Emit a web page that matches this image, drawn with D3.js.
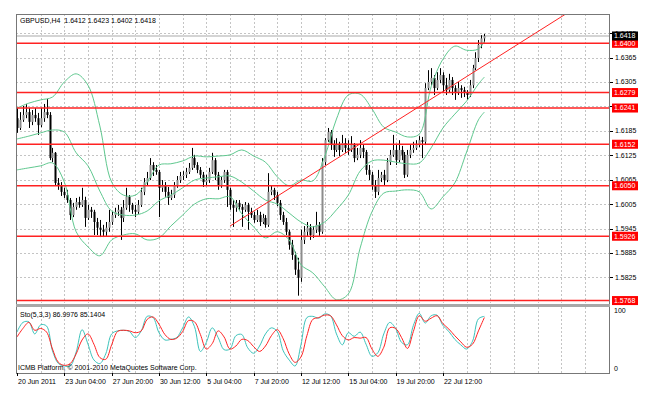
<!DOCTYPE html>
<html>
<head>
<meta charset="utf-8">
<script src="https://cdn.jsdelivr.net/npm/d3@7"></script>
<style>
body { margin: 0; background: #fff; }
text { font-family: "Liberation Sans", Arial, sans-serif; font-size: 7px; fill: #000; white-space: pre; }
</style>
</head>
<body>
<script>
// GBPUSD H4 bars
var openP = [1.6216,1.6192,1.6212,1.6224,1.6231,1.6207,1.6224,1.6216,
  1.6199,1.6216,1.6231,1.6224,1.6118,1.6131,1.6057,1.6050,
  1.6035,1.6027,1.6015,1.5978,1.5998,1.6010,1.6003,1.6015,
  1.5971,1.5991,1.5986,1.5961,1.5947,1.5942,1.5937,1.5947,
  1.5961,1.5978,1.5986,1.5991,1.5971,1.5996,1.6023,1.6003,
  1.5991,1.5986,1.6003,1.6035,1.6059,1.6069,1.6101,1.6089,
  1.6084,1.6045,1.6052,1.6035,1.6020,1.6027,1.6052,1.6064,
  1.6074,1.6077,1.6084,1.6094,1.6118,1.6101,1.6089,1.6077,
  1.6059,1.6064,1.6084,1.6113,1.6077,1.6052,1.6064,1.6084,
  1.6040,1.6003,1.5996,1.6008,1.5998,1.5991,1.6003,1.5986,
  1.5978,1.5966,1.5978,1.5961,1.5971,1.5954,1.6035,1.6040,
  1.6027,1.6008,1.5978,1.5961,1.5937,1.5905,1.5880,1.5844,
  1.5824,1.5917,1.5937,1.5947,1.5929,1.5942,1.5954,1.5937,
  1.6108,1.6162,1.6182,1.6150,1.6138,1.6150,1.6138,1.6155,
  1.6143,1.6138,1.6150,1.6118,1.6126,1.6143,1.6133,1.6089,
  1.6077,1.6052,1.6035,1.6069,1.6077,1.6064,1.6108,1.6126,
  1.6138,1.6113,1.6138,1.6126,1.6077,1.6126,1.6138,1.6143,
  1.6150,1.6162,1.6158,1.6290,1.6305,1.6315,1.6290,1.6310,
  1.6322,1.6297,1.6285,1.6310,1.6290,1.6280,1.6290,1.6285,
  1.6280,1.6273,1.6297,1.6339,1.6364,1.6396,1.6412];
var highP = [1.6241,1.6231,1.6246,1.6251,1.6241,1.6236,1.6241,1.6229,
  1.6241,1.6251,1.6263,1.6231,1.6143,1.6133,1.6069,1.6059,
  1.6045,1.6040,1.6020,1.6008,1.6020,1.6023,1.6045,1.6023,
  1.6003,1.5998,1.5991,1.5971,1.5966,1.5954,1.5961,1.5991,
  1.5986,1.5996,1.6003,1.5998,1.6015,1.6045,1.6027,1.6008,
  1.6003,1.6015,1.6045,1.6069,1.6084,1.6118,1.6108,1.6101,
  1.6089,1.6064,1.6059,1.6047,1.6040,1.6059,1.6074,1.6084,
  1.6086,1.6094,1.6106,1.6143,1.6126,1.6108,1.6096,1.6084,
  1.6077,1.6094,1.6131,1.6118,1.6084,1.6072,1.6089,1.6089,
  1.6045,1.6015,1.6015,1.6015,1.6005,1.6010,1.6008,1.5996,
  1.5986,1.5991,1.5986,1.5981,1.5978,1.6081,1.6050,1.6045,
  1.6035,1.6015,1.5986,1.5971,1.5942,1.5917,1.5888,1.5873,
  1.5942,1.5951,1.5961,1.5956,1.5951,1.5986,1.5961,1.6118,
  1.6167,1.6192,1.6187,1.6162,1.6167,1.6158,1.6175,1.6167,
  1.6162,1.6172,1.6155,1.6143,1.6162,1.6150,1.6138,1.6101,
  1.6084,1.6064,1.6089,1.6084,1.6089,1.6118,1.6138,1.6175,
  1.6150,1.6162,1.6148,1.6133,1.6138,1.6150,1.6158,1.6162,
  1.6172,1.6170,1.6302,1.6334,1.6339,1.6322,1.6329,1.6339,
  1.6329,1.6315,1.6325,1.6317,1.6297,1.6305,1.6297,1.6293,
  1.6285,1.6310,1.6347,1.6378,1.6408,1.6420,1.6423];
var lowP = [1.6180,1.6187,1.6207,1.6216,1.6192,1.6199,1.6207,1.6175,
  1.6194,1.6207,1.6216,1.6113,1.6108,1.6050,1.6040,1.6025,
  1.6020,1.6008,1.5966,1.5973,1.5991,1.5996,1.5998,1.5949,
  1.5966,1.5971,1.5929,1.5929,1.5924,1.5924,1.5927,1.5937,
  1.5954,1.5971,1.5976,1.5917,1.5961,1.5991,1.5986,1.5981,
  1.5973,1.5981,1.5998,1.6027,1.6050,1.6064,1.6074,1.6077,
  1.5973,1.6035,1.6023,1.6003,1.6015,1.6020,1.6045,1.6057,
  1.6064,1.6069,1.6079,1.6089,1.6094,1.6081,1.6069,1.6047,
  1.6052,1.6057,1.6079,1.6064,1.6040,1.6045,1.6057,1.5998,
  1.5991,1.5949,1.5986,1.5991,1.5949,1.5986,1.5942,1.5971,
  1.5959,1.5961,1.5951,1.5956,1.5947,1.5949,1.6027,1.6015,
  1.6000,1.5966,1.5954,1.5929,1.5893,1.5868,1.5831,1.5780,
  1.5814,1.5907,1.5927,1.5917,1.5922,1.5934,1.5927,1.5932,
  1.6101,1.6158,1.6138,1.6121,1.6133,1.6123,1.6133,1.6131,
  1.6126,1.6133,1.6108,1.6113,1.6118,1.6118,1.6077,1.6064,
  1.6040,1.6020,1.6027,1.6059,1.6052,1.6059,1.6101,1.6121,
  1.6101,1.6108,1.6113,1.6069,1.6072,1.6118,1.6131,1.6138,
  1.6145,1.6118,1.6150,1.6285,1.6297,1.6273,1.6285,1.6302,
  1.6280,1.6273,1.6280,1.6273,1.6261,1.6273,1.6266,1.6268,
  1.6261,1.6268,1.6290,1.6334,1.6354,1.6388,1.6402];
var closeP = [1.6192,1.6212,1.6224,1.6231,1.6207,1.6224,1.6216,1.6199,
  1.6216,1.6231,1.6224,1.6118,1.6131,1.6057,1.6050,1.6035,
  1.6027,1.6015,1.5978,1.5998,1.6010,1.6003,1.6015,1.5971,
  1.5991,1.5986,1.5961,1.5947,1.5942,1.5937,1.5947,1.5961,
  1.5978,1.5986,1.5991,1.5971,1.5996,1.6023,1.6003,1.5991,
  1.5986,1.6003,1.6035,1.6059,1.6069,1.6101,1.6089,1.6084,
  1.6045,1.6052,1.6035,1.6020,1.6027,1.6052,1.6064,1.6074,
  1.6077,1.6084,1.6094,1.6118,1.6101,1.6089,1.6077,1.6059,
  1.6064,1.6084,1.6113,1.6077,1.6052,1.6064,1.6084,1.6040,
  1.6003,1.5996,1.6008,1.5998,1.5991,1.6003,1.5986,1.5978,
  1.5966,1.5978,1.5961,1.5971,1.5954,1.6035,1.6040,1.6027,
  1.6008,1.5978,1.5961,1.5937,1.5905,1.5880,1.5844,1.5824,
  1.5917,1.5937,1.5947,1.5929,1.5942,1.5954,1.5937,1.6108,
  1.6162,1.6182,1.6150,1.6138,1.6150,1.6138,1.6155,1.6143,
  1.6138,1.6150,1.6118,1.6126,1.6143,1.6133,1.6089,1.6077,
  1.6052,1.6035,1.6069,1.6077,1.6064,1.6108,1.6126,1.6138,
  1.6113,1.6138,1.6126,1.6077,1.6126,1.6138,1.6143,1.6150,
  1.6162,1.6158,1.6290,1.6305,1.6315,1.6290,1.6310,1.6322,
  1.6297,1.6285,1.6310,1.6290,1.6280,1.6290,1.6285,1.6280,
  1.6273,1.6297,1.6339,1.6364,1.6396,1.6412,1.6418];

// Bollinger bands, sampled every 4 bars
var bbBars = [0,4,8,12,16,20,24,28,32,36,40,44,48,52,56,60,64,68,72,76,80,84,88,92,96,100,104,108,112,116,120,124,128,132,136,140,144,148,152,156,158];
var bbUpper = [1.6241,1.6253,1.6261,1.6268,1.6305,1.6325,1.6297,1.6197,1.6059,1.6027,1.6027,1.6059,1.6101,1.6104,1.6111,1.6123,1.6121,1.6123,1.6126,1.6138,1.6123,1.6108,1.6072,1.6050,1.6064,1.6062,1.6121,1.6214,1.6273,1.6275,1.6239,1.6194,1.6182,1.6170,1.6177,1.6293,1.6361,1.6393,1.6383,1.6386,1.6405];
var bbMiddle = [1.6165,1.6172,1.6180,1.6187,1.6182,1.6131,1.6099,1.6037,1.5988,1.5978,1.5978,1.5988,1.6013,1.6027,1.6045,1.6064,1.6069,1.6072,1.6074,1.6059,1.6037,1.6015,1.6005,1.5983,1.5961,1.5949,1.5961,1.5991,1.6027,1.6086,1.6111,1.6113,1.6108,1.6104,1.6106,1.6143,1.6192,1.6226,1.6258,1.6300,1.6317];
var bbLower = [1.6089,1.6094,1.6099,1.6106,1.6059,1.5937,1.5900,1.5878,1.5917,1.5929,1.5932,1.5917,1.5922,1.5951,1.5978,1.6005,1.6018,1.6018,1.6023,1.5981,1.5949,1.5922,1.5937,1.5917,1.5856,1.5836,1.5802,1.5770,1.5784,1.5897,1.5986,1.6032,1.6037,1.6040,1.6035,1.5993,1.6023,1.6057,1.6133,1.6212,1.6231];

// Stochastic(5,3,3), sampled every 2 bars
var stoBars = [0,2,4,6,8,10,12,14,16,18,20,22,24,26,28,30,32,34,36,38,40,42,44,46,48,50,52,54,56,58,60,62,64,66,68,70,72,74,76,78,80,82,84,86,88,90,92,94,96,98,100,102,104,106,108,110,112,114,116,118,120,122,124,126,128,130,132,134,136,138,140,142,144,146,148,150,152,154,156,158];
var stoMain = [61,77,78,58,73,71,30,9,5,5, 28,65,41,15,9,25,58,63,64,62, 52,63,87,85,60,48,49,52,68,86, 70,29,44,68,52,32,33,55,57,35, 26,38,58,68,62,30,15,5,40,85, 87,84,91,88,58,40,60,54,61,41, 21,27,58,77,67,44,40,72,92,76, 88,89,72,62,49,40,33,46,83,87.0];
var stoSignal = [53,67,77,64,67,61,33,11,6,9, 25,48,58,41,19,16,40,62,64,63, 60,63,82,86,74,57,49,51,62,80, 78,57,33,42,63,53,33,38,49,47, 37,29,38,55,65,50,25,11,20,55, 82,85,89,88,73,55,48,52,51,52, 33,21,36,68,67,52,34,62,88,79, 84,88,75,66,55,45,36,41,63,85.1];

var levels = [1.6400, 1.6279, 1.6241, 1.6152, 1.6050, 1.5926, 1.5768];
var priceTicks = [1.6425, 1.6365, 1.6305, 1.6245, 1.6185, 1.6125, 1.6065, 1.6005, 1.5945, 1.5885, 1.5825];
// 1.6245 sits under the 1.6241 tag, so its label is not shown
var hiddenTicks = [1.6245];
var timeBars = [0, 16, 32, 48, 64, 80, 96, 112, 128, 144];
var timeLabels = ['20 Jun 2011', '23 Jun 04:00', '27 Jun 20:00', '30 Jun 12:00', '5 Jul 04:00',
  '7 Jul 20:00', '12 Jul 12:00', '15 Jul 04:00', '19 Jul 20:00', '22 Jul 12:00'];
var trendBars = [72, 133];
var trendPrices = [1.5951, 1.6231];
var lastPrice = 1.6418;
var header = 'GBPUSD,H4  1.6412 1.6423 1.6402 1.6418';
var stoHeader = 'Sto(5,3,3) 86.9976 85.1404';

var W = 647, H = 395;
var left = 16, right = 610, mainTop = 14, mainBottom = 303, stoTop = 307, stoBottom = 373;

var svg = d3.select('body').append('svg')
  .attr('width', W)
  .attr('height', H);

var x = d3.scaleLinear().domain([0, 200]).range([17, 17 + 2.958 * 200]);
var y = d3.scaleLinear().domain([1.5762, 1.6472]).range([mainBottom, mainTop]);
var ys = d3.scaleLinear().domain([0, 100]).range([369, 308.5]);

var defs = svg.append('defs');
defs.append('clipPath').attr('id', 'clipMain').append('rect')
  .attr('x', left).attr('y', mainTop).attr('width', right - left).attr('height', mainBottom - mainTop);
defs.append('clipPath').attr('id', 'clipSto').append('rect')
  .attr('x', left).attr('y', stoTop).attr('width', right - left).attr('height', stoBottom - stoTop);

var gridBars = d3.range(8, 201, 8).filter(b => x(b) < right - 1);

// grid
var grid = svg.append('g').attr('stroke', '#c4c4c4').attr('stroke-dasharray', '2,2').attr('shape-rendering', 'crispEdges');
grid.selectAll('.vm').data(gridBars).enter().append('line')
  .attr('x1', d => Math.round(x(d)) + 0.5).attr('x2', d => Math.round(x(d)) + 0.5)
  .attr('y1', mainTop).attr('y2', mainBottom);
grid.selectAll('.vs').data(gridBars).enter().append('line')
  .attr('x1', d => Math.round(x(d)) + 0.5).attr('x2', d => Math.round(x(d)) + 0.5)
  .attr('y1', stoTop).attr('y2', stoBottom);
grid.selectAll('.h').data(priceTicks).enter().append('line')
  .attr('x1', left).attr('x2', right)
  .attr('y1', d => Math.round(y(d)) + 0.5).attr('y2', d => Math.round(y(d)) + 0.5);

var main = svg.append('g').attr('clip-path', 'url(#clipMain)');

// current price line
main.append('line')
  .attr('x1', left).attr('x2', right)
  .attr('y1', y(lastPrice)).attr('y2', y(lastPrice))
  .attr('stroke', '#d4d4d4').attr('stroke-width', 2);

// candles
var bars = d3.range(closeP.length);
var candle = main.append('g');
candle.selectAll('.wick').data(bars).enter().append('line')
  .attr('x1', i => Math.round(x(i)) + 0.5).attr('x2', i => Math.round(x(i)) + 0.5)
  .attr('y1', i => y(highP[i])).attr('y2', i => y(lowP[i]))
  .attr('stroke', '#000').attr('stroke-width', 1);
candle.selectAll('.body').data(bars).enter().append('rect')
  .attr('x', i => Math.round(x(i)) - 0.5)
  .attr('width', 2)
  .attr('y', i => y(Math.max(openP[i], closeP[i])))
  .attr('height', i => Math.max(1, Math.abs(y(openP[i]) - y(closeP[i]))))
  .attr('fill', i => closeP[i] >= openP[i] ? '#8c8c8c' : '#000');

// bollinger bands
var bbLine = function(vals) {
  return d3.line()
    .x((d, k) => x(bbBars[k]))
    .y(d => y(d))
    .curve(d3.curveCatmullRom.alpha(0.5))(vals);
};
[bbUpper, bbMiddle, bbLower].forEach(function(vals) {
  main.append('path').attr('d', bbLine(vals))
    .attr('fill', 'none').attr('stroke', '#5fc88f').attr('stroke-width', 1);
});

// horizontal levels
main.selectAll('.lvl').data(levels).enter().append('line')
  .attr('x1', left).attr('x2', right)
  .attr('y1', d => y(d)).attr('y2', d => y(d))
  .attr('stroke', '#f22').attr('stroke-width', 1.4);

// trend line (ray to the right)
var slope = (trendPrices[1] - trendPrices[0]) / (trendBars[1] - trendBars[0]);
main.append('line')
  .attr('x1', x(trendBars[0])).attr('y1', y(trendPrices[0]))
  .attr('x2', x(200)).attr('y2', y(trendPrices[0] + slope * (200 - trendBars[0])))
  .attr('stroke', '#f22').attr('stroke-width', 1);

// stochastic
var sto = svg.append('g').attr('clip-path', 'url(#clipSto)');
var stoLine = d3.line()
  .x((d, k) => x(stoBars[k]))
  .y(d => ys(d))
  .curve(d3.curveCatmullRom.alpha(0.5));
sto.append('path').attr('d', stoLine(stoMain))
  .attr('fill', 'none').attr('stroke', '#3cc3bb').attr('stroke-width', 1);
sto.append('path').attr('d', stoLine(stoSignal))
  .attr('fill', 'none').attr('stroke', '#f22').attr('stroke-width', 1);

// frames
var frame = svg.append('g').attr('fill', 'none').attr('stroke', '#777').attr('shape-rendering', 'crispEdges');
frame.append('rect').attr('x', left + 0.5).attr('y', mainTop + 0.5)
  .attr('width', right - left - 1).attr('height', mainBottom - mainTop + 1).attr('stroke-width', 1.5);
svg.append('rect').attr('x', left).attr('y', mainBottom + 1)
  .attr('width', right - left).attr('height', 3).attr('fill', '#a8a8a8');
frame.append('rect').attr('x', left + 0.5).attr('y', stoTop - 0.5)
  .attr('width', right - left - 1).attr('height', stoBottom - stoTop + 0.5);

// price axis
var axis = svg.append('g');
axis.selectAll('.tk').data(priceTicks).enter().append('line')
  .attr('x1', right).attr('x2', right + 3)
  .attr('y1', d => Math.round(y(d)) + 0.5).attr('y2', d => Math.round(y(d)) + 0.5)
  .attr('stroke', '#000');
axis.selectAll('.tl').data(priceTicks.filter(d => hiddenTicks.indexOf(d) < 0)).enter().append('text')
  .attr('x', right + 5).attr('y', d => y(d)).attr('dy', '0.35em')
  .text(d => d.toFixed(4));

// level labels
var tag = svg.append('g');
var tags = levels.map(d => ({ v: d, fill: '#ff0000' })).concat([{ v: lastPrice, fill: '#000' }]);
tag.selectAll('rect').data(tags).enter().append('rect')
  .attr('x', right + 2).attr('y', d => y(d.v) - 4.5)
  .attr('width', 26).attr('height', 9)
  .attr('fill', d => d.fill);
tag.selectAll('text').data(tags).enter().append('text')
  .attr('x', right + 4).attr('y', d => y(d.v)).attr('dy', '0.35em')
  .style('fill', '#fff')
  .text(d => d.v.toFixed(4));

// stochastic scale
svg.append('text').attr('x', right + 4).attr('y', ys(100) + 2.5).attr('dy', '0.35em').text('100');
svg.append('text').attr('x', right + 4).attr('y', ys(0)).attr('dy', '0.35em').text('0');

// time axis
svg.selectAll('.tt').data(timeBars).enter().append('line')
  .attr('x1', b => Math.round(x(b)) + 0.5).attr('x2', b => Math.round(x(b)) + 0.5)
  .attr('y1', stoBottom).attr('y2', stoBottom + 3)
  .attr('stroke', '#000');
svg.selectAll('.tx').data(timeBars).enter().append('text')
  .attr('x', b => x(b) + 1).attr('y', 384)
  .text((b, k) => timeLabels[k]);

// captions
svg.append('text').attr('x', 20).attr('y', 23).text(header);
svg.append('text').attr('x', 20).attr('y', 317).text(stoHeader);
svg.append('text').attr('x', 18).attr('y', 370).text('ICMB Platform, \u00a9 2001-2010 MetaQuotes Software Corp.');
</script>
</body>
</html>
